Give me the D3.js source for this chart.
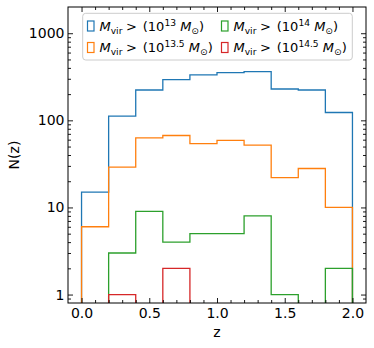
<!DOCTYPE html>
<html><head><meta charset="utf-8">
<script src="https://cdn.jsdelivr.net/npm/d3@7"></script>
<style>
body{margin:0;background:#fff}
svg{display:block}
text{font-family:"DejaVu Sans",sans-serif;fill:#000}
</style>
</head><body>
<svg id="c" width="374" height="348"></svg>
<script>
// ---- data ----
const binEdges = [0.0,0.2,0.4,0.6,0.8,1.0,1.2,1.4,1.6,1.8,2.0];
const seriesExp = ["13","13.5","14","14.5"];
const counts13   = [15,112,223,294,332,353,363,229,223,123];
const counts13_5 = [6,29,63,67,54,59,52,22,28,10];
const counts14   = [0,3,9,4,5,5,8,1,0,2];
const counts14_5 = [0,1,0,2,0,0,0,0,0,0];
const seriesCounts = [counts13, counts13_5, counts14, counts14_5];
const seriesColors = ["#1f77b4","#ff7f0e","#2ca02c","#d62728"];
const xTicks = [0,0.5,1.0,1.5,2.0];
const yTicks = [1,10,100,1000];
const xLabel = "z";
const yLabel = "N(z)";

// ---- layout ----
const L=68, R=366, T=7, B=303;
const svg = d3.select("#c");
const x = d3.scaleLinear([-0.1,2.1],[L,R]);
const y = d3.scaleLog([0.8,2000],[B,T]);

const yMinor = [];
for (let k=-1;k<=3;k++) for (let m=2;m<=9;m++){const v=m*Math.pow(10,k); if(v>0.8&&v<2000) yMinor.push(v);}
const xMinor = d3.range(-0.1+1e-9,2.1,0.1).map(v=>Math.round(v*10)/10).filter(v=>v>-0.1&&v<2.1&&!xTicks.includes(v));

svg.append("defs").append("clipPath").attr("id","clip")
  .append("rect").attr("x",L).attr("y",T).attr("width",R-L).attr("height",B-T);

// ---- histograms ----
const g = svg.append("g").attr("clip-path","url(#clip)");
const floorVal = 0.05;
seriesCounts.forEach((cnt,i)=>{
  const pts=[[binEdges[0],floorVal]];
  cnt.forEach((c,j)=>{const v=c>0?c:floorVal; pts.push([binEdges[j],v]); pts.push([binEdges[j+1],v]);});
  pts.push([binEdges[binEdges.length-1],floorVal]);
  const line=d3.line().x(d=>x(d[0])).y(d=>y(d[1]));
  g.append("path").attr("d",line(pts)).attr("fill","none")
   .attr("stroke",seriesColors[i]).attr("stroke-width",1.3).attr("stroke-linejoin","miter");
});

// ---- axes ----
function styleAxis(sel){sel.select(".domain").remove(); sel.selectAll(".tick line").attr("stroke","#000").attr("stroke-width",0.9);}
const fs=14;
svg.append("g").attr("transform",`translate(0,${B})`)
  .call(d3.axisBottom(x).tickValues(xTicks).tickFormat(d3.format(".1f")).tickSize(-5).tickPadding(5.5))
  .call(styleAxis).selectAll("text").attr("font-size",fs).attr("font-family","DejaVu Sans");
svg.append("g").attr("transform",`translate(0,${B})`)
  .call(d3.axisBottom(x).tickValues(xMinor).tickFormat("").tickSize(-3)).call(styleAxis);
svg.append("g").attr("transform",`translate(0,${T})`)
  .call(d3.axisTop(x).tickValues(xTicks).tickFormat("").tickSize(-5)).call(styleAxis);
svg.append("g").attr("transform",`translate(0,${T})`)
  .call(d3.axisTop(x).tickValues(xMinor).tickFormat("").tickSize(-3)).call(styleAxis);

svg.append("g").attr("transform",`translate(${L},0)`)
  .call(d3.axisLeft(y).tickValues(yTicks).tickFormat(d3.format("d")).tickSize(-5).tickPadding(3.5))
  .call(styleAxis).selectAll("text").attr("font-size",fs).attr("font-family","DejaVu Sans");
svg.append("g").attr("transform",`translate(${L},0)`)
  .call(d3.axisLeft(y).tickValues(yMinor).tickFormat("").tickSize(-3)).call(styleAxis);
svg.append("g").attr("transform",`translate(${R},0)`)
  .call(d3.axisRight(y).tickValues(yTicks).tickFormat("").tickSize(-5)).call(styleAxis);
svg.append("g").attr("transform",`translate(${R},0)`)
  .call(d3.axisRight(y).tickValues(yMinor).tickFormat("").tickSize(-3)).call(styleAxis);

// frame
svg.append("rect").attr("x",L).attr("y",T).attr("width",R-L).attr("height",B-T)
  .attr("fill","none").attr("stroke","#000").attr("stroke-width",1);

// axis labels
svg.append("text").attr("x",(L+R)/2).attr("y",337).attr("text-anchor","middle").attr("font-size",fs).text(xLabel);
svg.append("text").attr("transform",`translate(19,${(T+B)/2}) rotate(-90)`).attr("text-anchor","middle").attr("font-size",fs).text(yLabel);

// ---- legend ----
const lg = svg.append("g");
lg.append("rect").attr("x",82.7).attr("y",13.3).attr("width",269.6).attr("height",46.7).attr("rx",3)
  .attr("fill","#fff").attr("fill-opacity",0.8).attr("stroke","#cccccc").attr("stroke-width",1);
const legPos = [[87.5,26,99.5],[87.5,47.5,99.5],[221.5,26,233.5],[221.5,47.5,233.5]];
const lfs = 13;
seriesExp.forEach((e,i)=>{
  const [mx,cy,tx]=legPos[i];
  lg.append("rect").attr("x",mx).attr("y",cy-5).attr("width",6.5).attr("height",10)
    .attr("fill","none").attr("stroke",seriesColors[i]).attr("stroke-width",1.2);
  const t = lg.append("text").attr("x",tx).attr("y",cy+4.5).attr("font-size",lfs);
  t.append("tspan").attr("font-style","italic").text("M");
  t.append("tspan").attr("font-size",lfs*0.7).attr("dy",3).text("vir");
  t.append("tspan").attr("dy",-3).attr("dx",3.5).text(">");
  t.append("tspan").attr("dx",6).text("(10");
  t.append("tspan").attr("font-size",lfs*0.7).attr("dy",-5).text(e);
  t.append("tspan").attr("dy",5).text(" ");
  t.append("tspan").attr("font-style","italic").text("M");
  t.append("tspan").attr("font-size",lfs*0.7).attr("dy",3).text("\u2299");
  t.append("tspan").attr("dy",-3).text(")");
});
</script>
</body></html>
